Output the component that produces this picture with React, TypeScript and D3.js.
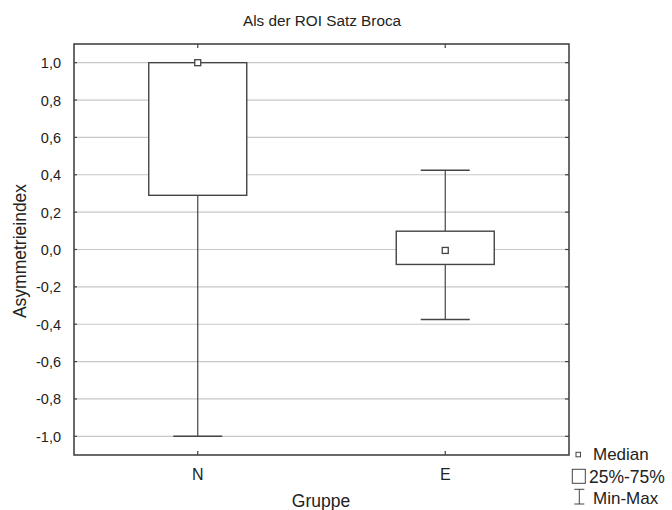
import React from "react";
import * as d3 from "d3";

const categories = ["N", "E"];
const minVals = [-1.0, -0.375];
const q1Vals = [0.29, -0.08];
const medianVals = [1.0, -0.005];
const q3Vals = [1.0, 0.098];
const maxVals = [1.0, 0.424];
const yTicks = [-1.0, -0.8, -0.6, -0.4, -0.2, 0.0, 0.2, 0.4, 0.6, 0.8, 1.0];

const W = 672, H = 510;
const L = 74, R = 569, T = 44, B = 455;
const font = "Liberation Sans, Arial, sans-serif";
const dark = "#444";
const txt = "#222";

export default function App() {
  const x = d3.scalePoint<string>().domain(categories).range([L, R]).padding(0.5);
  const y = d3.scaleLinear().domain([-1.1, 1.1]).range([B, T]);
  const fmt = (v: number) => d3.format(".1f")(v).replace(".", ",").replace("−", "-");
  const boxHalf = 49;
  const capHalf = 24.5;
  return (
    <svg width={W} height={H} style={{ position: "absolute", left: 0, top: 0, background: "#fff" }}>
      <rect x={0} y={0} width={W} height={H} fill="#fff" />
      <text x={322} y={26} textAnchor="middle" fontFamily={font} fontSize={15.3} fill={txt}>Als der ROI Satz Broca</text>
      {yTicks.map((t) => (
        <g key={t}>
          <line x1={L} x2={R} y1={y(t)} y2={y(t)} stroke="#c8c8c8" strokeWidth={1.2} />
          <line x1={R - 4} x2={R} y1={y(t)} y2={y(t)} stroke={dark} strokeWidth={1.2} />
          <line x1={L} x2={L + 3} y1={y(t)} y2={y(t)} stroke={dark} strokeWidth={1.2} />
          <text x={L - 13} y={y(t) + 5.5} textAnchor="end" fontFamily={font} fontSize={14.5} fill={txt}>{fmt(t)}</text>
        </g>
      ))}
      {categories.map((c) => (
        <g key={c}>
          <line x1={x(c)} x2={x(c)} y1={T} y2={T + 4} stroke={dark} strokeWidth={1.2} />
          <line x1={x(c)} x2={x(c)} y1={B - 4} y2={B} stroke={dark} strokeWidth={1.2} />
          <text x={x(c)} y={B + 25} textAnchor="middle" fontFamily={font} fontSize={16} fill={txt}>{c}</text>
        </g>
      ))}
      {categories.map((c, i) => {
        const cx = x(c) as number;
        return (
          <g key={"b" + c} stroke={dark} fill="none">
            <line x1={cx} x2={cx} y1={y(maxVals[i])} y2={y(q3Vals[i])} strokeWidth={1.2} />
            <line x1={cx} x2={cx} y1={y(q1Vals[i])} y2={y(minVals[i])} strokeWidth={1.2} />
            <line x1={cx - capHalf} x2={cx + capHalf} y1={y(maxVals[i])} y2={y(maxVals[i])} strokeWidth={1.4} />
            <line x1={cx - capHalf} x2={cx + capHalf} y1={y(minVals[i])} y2={y(minVals[i])} strokeWidth={1.4} />
            <rect x={cx - boxHalf} y={y(q3Vals[i])} width={boxHalf * 2} height={y(q1Vals[i]) - y(q3Vals[i])} fill="#fff" strokeWidth={1.4} />
            <rect x={cx - 3} y={y(medianVals[i]) - 3} width={6} height={6} fill="#fff" strokeWidth={1.3} />
          </g>
        );
      })}
      <rect x={L} y={T} width={R - L} height={B - T} fill="none" stroke={dark} strokeWidth={1.6} />
      <text transform={`translate(25.5,251) rotate(-90)`} textAnchor="middle" fontFamily={font} fontSize={17.5} fill={txt}>Asymmetrieindex</text>
      <text x={321} y={507} textAnchor="middle" fontFamily={font} fontSize={17.5} fill={txt}>Gruppe</text>
      <g stroke={dark} fill="#fff">
        <rect x={576} y={452.3} width={4.5} height={4.5} strokeWidth={1} />
        <rect x={572.3} y={469.3} width={13} height={14} strokeWidth={1} />
        <line x1={579.3} x2={579.3} y1={489.3} y2={504} strokeWidth={1} />
        <line x1={574.3} x2={584.3} y1={489.3} y2={489.3} strokeWidth={1} />
        <line x1={574.3} x2={584.3} y1={504} y2={504} strokeWidth={1} />
      </g>
      <text x={593} y={459.5} fontFamily={font} fontSize={17} fill={txt}>Median</text>
      <text x={589} y={483} fontFamily={font} fontSize={17.5} fill={txt}>25%-75%</text>
      <text x={593} y={504} fontFamily={font} fontSize={17} fill={txt}>Min-Max</text>
    </svg>
  );
}
